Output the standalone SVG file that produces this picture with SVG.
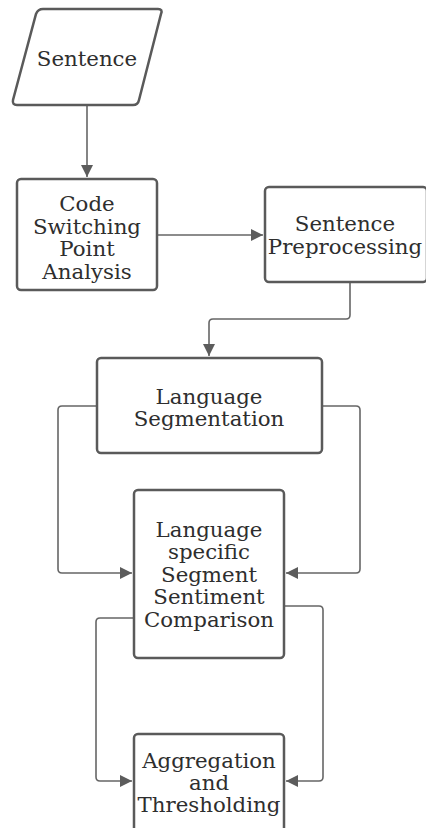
<svg xmlns="http://www.w3.org/2000/svg" width="426" height="828" viewBox="0 0 426 828">
<defs>
<style>
.box{fill:#fff;stroke:#5a5a5a;stroke-width:2.5}
.con{fill:none;stroke:#666;stroke-width:1.6;stroke-linejoin:round}
.t{font-family:"DejaVu Serif","Liberation Serif",serif;font-size:21.3px;fill:#2e2e2e;text-anchor:middle}
</style>
<marker id="ah" markerWidth="12" markerHeight="12" refX="10" refY="5" orient="auto" markerUnits="userSpaceOnUse" viewBox="0 0 10 10">
<path d="M0,0 L10,5 L0,10 z" fill="#5c5c5c"/>
</marker>
</defs>
<rect width="426" height="828" fill="#fff"/>
<g id="connectors">
<path class="con" d="M87,105 V177" marker-end="url(#ah)"/>
<path class="con" d="M157,235 H263" marker-end="url(#ah)"/>
<path class="con" d="M350,282 V315 Q350,319 346,319 H213 Q209,319 209,323 V356" marker-end="url(#ah)"/>
<path class="con" d="M97,406 H62 Q58,406 58,410 V569 Q58,573 62,573 H132" marker-end="url(#ah)"/>
<path class="con" d="M322,406 H356 Q360,406 360,410 V569 Q360,573 356,573 H286" marker-end="url(#ah)"/>
<path class="con" d="M134,618 H100 Q96,618 96,622 V777 Q96,781 100,781 H132" marker-end="url(#ah)"/>
<path class="con" d="M284,606 H319 Q323,606 323,610 V777 Q323,781 319,781 H286" marker-end="url(#ah)"/>
</g>
<g id="sentence">
<path class="box" d="M43,9 H158 Q163,9 161,14 L139,100 Q138,105 133,105 H17 Q12,105 13,100 L36,14 Q38,9 43,9 Z"/>
<text class="t" x="87" y="65.5">Sentence</text>
</g>
<g id="code-switching">
<rect class="box" x="17" y="179" width="140" height="111" rx="4"/>
<text class="t" x="87" y="211">Code</text>
<text class="t" x="87" y="233.5">Switching</text>
<text class="t" x="87" y="256">Point</text>
<text class="t" x="87" y="278.5">Analysis</text>
</g>
<g id="sentence-preprocessing">
<rect class="box" x="265" y="187" width="162" height="95" rx="4"/>
<text class="t" x="345" y="230.5">Sentence</text>
<text class="t" x="345" y="254">Preprocessing</text>
</g>
<g id="language-segmentation">
<rect class="box" x="97" y="358" width="225" height="95" rx="4"/>
<text class="t" x="209" y="403.5">Language</text>
<text class="t" x="209" y="425.5">Segmentation</text>
</g>
<g id="segment-sentiment">
<rect class="box" x="134" y="490" width="150" height="168" rx="4"/>
<text class="t" x="209" y="536.5">Language</text>
<text class="t" x="209" y="559">specific</text>
<text class="t" x="209" y="581.5">Segment</text>
<text class="t" x="209" y="604">Sentiment</text>
<text class="t" x="209" y="626.5">Comparison</text>
</g>
<g id="aggregation">
<rect class="box" x="134" y="734" width="150" height="100" rx="4"/>
<text class="t" x="209" y="767.5">Aggregation</text>
<text class="t" x="209" y="789.5">and</text>
<text class="t" x="209" y="811.5">Thresholding</text>
</g>
</svg>
